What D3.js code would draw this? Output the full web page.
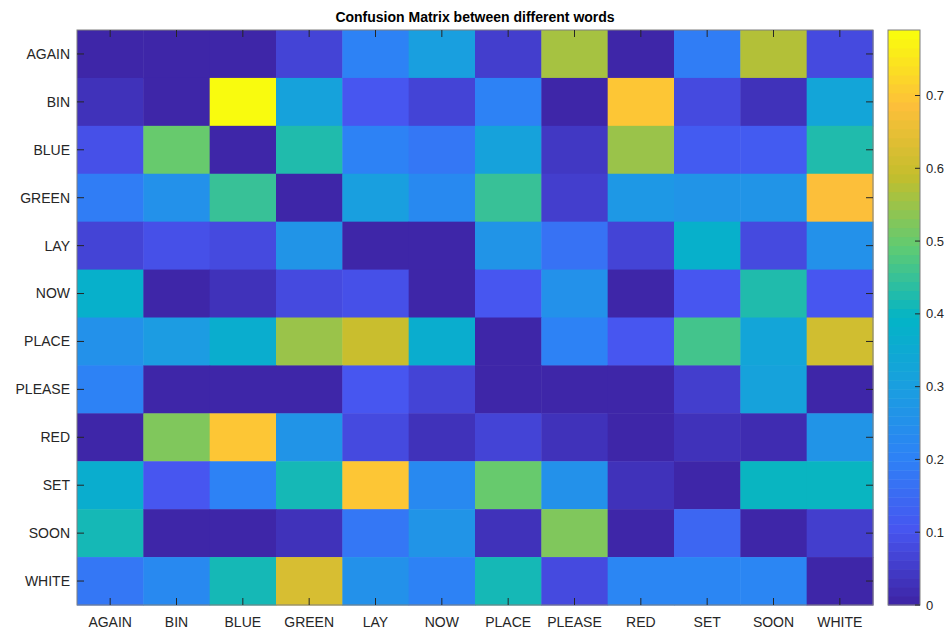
<!DOCTYPE html>
<html>
  <head>
    <meta charset="utf-8" />
    <script src="https://d3js.org/d3.v7.min.js"></script>
    <style>
        body { margin: 0; background: #fff; }
        text { font-family: "Liberation Sans", Arial, Helvetica, sans-serif; fill: #262626; }
        .title { font-weight: bold; font-size: 14px; fill: #000; }
    </style>
  </head>
  <body>
    <svg width="947" height="632"></svg>

    <script type="text/javascript">
        var words = ["AGAIN","BIN","BLUE","GREEN","LAY","NOW","PLACE","PLEASE","RED","SET","SOON","WHITE"];

        // one row per true word, columns follow the same order
        var rowAGAIN  = [0.00,0.00,0.00,0.07,0.20,0.30,0.05,0.56,0.00,0.19,0.57,0.08];
        var rowBIN    = [0.03,0.00,0.79,0.31,0.10,0.07,0.20,0.01,0.70,0.08,0.035,0.33];
        var rowBLUE   = [0.09,0.50,0.00,0.42,0.20,0.18,0.31,0.04,0.55,0.12,0.12,0.42];
        var rowGREEN  = [0.19,0.25,0.45,0.00,0.30,0.23,0.45,0.06,0.28,0.27,0.26,0.69];
        var rowLAY    = [0.07,0.09,0.08,0.26,0.00,0.01,0.26,0.17,0.065,0.38,0.08,0.25];
        var rowNOW    = [0.38,0.00,0.025,0.08,0.09,0.00,0.11,0.25,0.00,0.11,0.43,0.11];
        var rowPLACE  = [0.25,0.29,0.36,0.55,0.60,0.36,0.00,0.20,0.11,0.46,0.33,0.61];
        var rowPLEASE = [0.20,0.00,0.00,0.00,0.10,0.07,0.00,0.00,0.00,0.06,0.31,0.00];
        var rowRED    = [0.01,0.53,0.70,0.27,0.08,0.03,0.065,0.025,0.005,0.025,0.02,0.26];
        var rowSET    = [0.37,0.10,0.20,0.41,0.70,0.23,0.50,0.25,0.03,0.005,0.40,0.40];
        var rowSOON   = [0.41,0.00,0.00,0.025,0.18,0.26,0.03,0.52,0.00,0.14,0.00,0.06];
        var rowWHITE  = [0.18,0.23,0.41,0.62,0.25,0.20,0.41,0.08,0.22,0.22,0.22,0.00];

        var rows = [rowAGAIN,rowBIN,rowBLUE,rowGREEN,rowLAY,rowNOW,rowPLACE,rowPLEASE,rowRED,rowSET,rowSOON,rowWHITE];
        var cbTicks = [0,0.1,0.2,0.3,0.4,0.5,0.6,0.7];

        var cells = [];
        rows.forEach(function(r,i){
            r.forEach(function(v,j){
                cells.push({row: words[i], col: words[j], v: v});
            });
        });

        var vmax = d3.max(cells, function(d){ return d.v; });

        // parula-like colormap
        var parulaStops = ["#3e26a8","#4755f0","#2e81f6","#1a9ee0","#03b4c6","#5fcb73","#c3be2d","#fdbf3a","#f9fb0e"];
        var parula = d3.scaleLinear()
            .domain(d3.range(parulaStops.length).map(function(i){ return i/(parulaStops.length-1); }))
            .range(parulaStops)
            .interpolate(d3.interpolateRgb);
        var nColors = 64;
        var color = function(v) {
            var t = Math.min(nColors-1, Math.floor(v / vmax * nColors));
            return parula(t/(nColors-1));
        };

        var svg = d3.select("svg");
        var mLeft = 77, mTop = 30, mRight = 873, mBottom = 605;

        var x = d3.scaleBand().domain(words).range([mLeft,mRight]);
        var y = d3.scaleBand().domain(words).range([mTop,mBottom]);

        svg.append("g")
            .selectAll("rect")
            .data(cells)
            .enter()
            .append("rect")
            .attr("x", function(d){ return x(d.col); })
            .attr("y", function(d){ return y(d.row); })
            .attr("width", x.bandwidth()+0.5)
            .attr("height", y.bandwidth()+0.5)
            .attr("fill", function(d){ return color(d.v); });

        // box + inward ticks
        var axisColor = "#262626";
        svg.append("rect")
            .attr("x",mLeft).attr("y",mTop)
            .attr("width",mRight-mLeft).attr("height",mBottom-mTop)
            .attr("fill","none").attr("stroke","#7f7f7f").attr("stroke-width",1);

        var tk = 7;
        var ticksG = svg.append("g").attr("stroke",axisColor).attr("stroke-width",1);
        words.forEach(function(w){
            var cx = x(w) + x.bandwidth()/2;
            var cyy = y(w) + y.bandwidth()/2;
            ticksG.append("line").attr("x1",cx).attr("x2",cx).attr("y1",mBottom).attr("y2",mBottom-tk);
            ticksG.append("line").attr("x1",cx).attr("x2",cx).attr("y1",mTop).attr("y2",mTop+tk);
            ticksG.append("line").attr("x1",mLeft).attr("x2",mLeft+tk).attr("y1",cyy).attr("y2",cyy);
            ticksG.append("line").attr("x1",mRight).attr("x2",mRight-tk).attr("y1",cyy).attr("y2",cyy);
        });

        svg.append("g")
            .selectAll("text")
            .data(words)
            .enter()
            .append("text")
            .attr("x", function(d){ return x(d) + x.bandwidth()/2; })
            .attr("y", 627)
            .attr("text-anchor","middle")
            .style("font-size","14px")
            .text(function(d){ return d; });

        svg.append("g")
            .selectAll("text")
            .data(words)
            .enter()
            .append("text")
            .attr("x", 70)
            .attr("y", function(d){ return y(d) + y.bandwidth()/2; })
            .attr("dy","0.35em")
            .attr("text-anchor","end")
            .style("font-size","14px")
            .text(function(d){ return d; });

        svg.append("text")
            .attr("class","title")
            .attr("x",(mLeft+mRight)/2)
            .attr("y",22)
            .attr("text-anchor","middle")
            .text("Confusion Matrix between different words");

        // colorbar
        var cbL = 888, cbR = 920;
        var cy = d3.scaleLinear().domain([0,vmax]).range([mBottom,mTop]);
        var bands = d3.range(nColors);
        svg.append("g")
            .selectAll("rect")
            .data(bands)
            .enter()
            .append("rect")
            .attr("x",cbL)
            .attr("width",cbR-cbL)
            .attr("y",function(d){ return cy((d+1)/nColors*vmax); })
            .attr("height",function(d){ return cy(d/nColors*vmax) - cy((d+1)/nColors*vmax) + 0.5; })
            .attr("fill",function(d){ return parula(d/(nColors-1)); });
        svg.append("rect")
            .attr("x",cbL).attr("y",mTop)
            .attr("width",cbR-cbL).attr("height",mBottom-mTop)
            .attr("fill","none").attr("stroke","#7f7f7f").attr("stroke-width",1);

        var cbAxis = svg.append("g");
        cbTicks.forEach(function(t){
            cbAxis.append("line")
                .attr("x1",cbR).attr("x2",cbR-5)
                .attr("y1",cy(t)).attr("y2",cy(t))
                .attr("stroke",axisColor);
        });
        cbAxis.selectAll("text")
            .data(cbTicks)
            .enter()
            .append("text")
            .attr("x",926)
            .attr("y",function(d){ return cy(d); })
            .attr("dy","0.35em")
            .style("font-size","13px")
            .text(function(d){ return d === 0 ? "0" : d3.format(".1f")(d); });
    </script>
  </body>
</html>
